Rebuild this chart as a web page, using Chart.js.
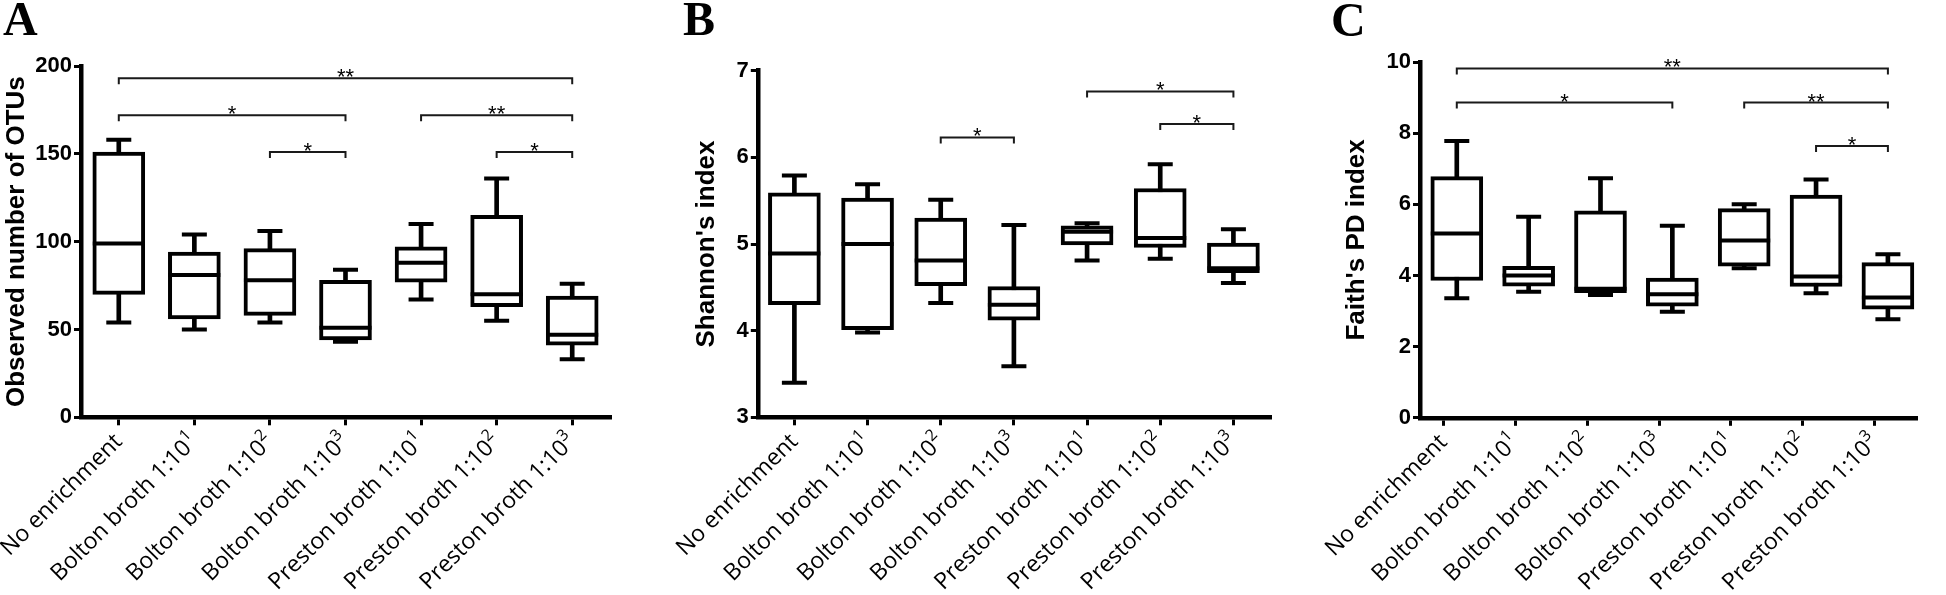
<!DOCTYPE html>
<html>
<head>
<meta charset="utf-8">
<script src="https://cdn.jsdelivr.net/npm/chart.js@4.4.1/dist/chart.umd.min.js"></script>
<style>
  html, body { margin: 0; padding: 0; background: #fff; }
  body { width: 1946px; height: 595px; position: relative; overflow: hidden; }
  canvas { position: absolute; top: 0; }
  .letter { position: absolute; z-index: 2; font-family: 'Liberation Serif', 'Times New Roman', serif; font-weight: bold; font-size: 48px; line-height: 48px; color: #000; }
</style>
</head>
<body>
<div class="letter" style="left:3px;top:-5px">A</div>
<div class="letter" style="left:683px;top:-5px">B</div>
<div class="letter" style="left:1331px;top:-4px">C</div>
<canvas id="chartA" width="640" height="595" style="left:0px"></canvas>
<canvas id="chartB" width="660" height="595" style="left:640px"></canvas>
<canvas id="chartC" width="646" height="595" style="left:1300px"></canvas>
<script>
// categorie (gruppi di arricchimento)
var categories = ['No enrichment', 'Bolton broth 1:10¹', 'Bolton broth 1:10²', 'Bolton broth 1:10³',
  'Preston broth 1:10¹', 'Preston broth 1:10²', 'Preston broth 1:10³'];

// A - observed OTUs
var otusMin    = [54, 50, 54, 43, 67, 55, 33];
var otusQ1     = [70, 56, 58, 44, 77, 63, 41];
var otusMedian = [99, 81, 78, 51, 88, 70, 47];
var otusQ3     = [151, 94, 96, 78, 97, 115, 69];
var otusMax    = [158, 104, 106, 84, 110, 136, 76];
var otusTicks  = [0, 50, 100, 150, 200];
var otusBrackets = [[0, 6, 193, '**'], [0, 3, 172, '*'], [4, 6, 172, '**'], [2, 3, 151, '*'], [5, 6, 151, '*']];

// B - Shannon
var shannonMin    = [3.40, 3.98, 4.32, 3.59, 4.81, 4.83, 4.55];
var shannonQ1     = [4.30, 4.01, 4.52, 4.12, 4.99, 4.96, 4.67];
var shannonMedian = [4.89, 5.00, 4.81, 4.30, 5.14, 5.07, 4.72];
var shannonQ3     = [5.59, 5.53, 5.30, 4.51, 5.21, 5.64, 5.01];
var shannonMax    = [5.79, 5.69, 5.51, 5.22, 5.24, 5.92, 5.17];
var shannonTicks  = [3, 4, 5, 6, 7];
var shannonBrackets = [[4, 6, 6.76, '*'], [5, 6, 6.385, '*'], [2, 3, 6.23, '*']];

// C - Faith's PD
var faithMin    = [3.36, 3.54, 3.45, 2.98, 4.20, 3.50, 2.77];
var faithQ1     = [3.86, 3.70, 3.52, 3.14, 4.26, 3.69, 3.05];
var faithMedian = [5.18, 4.00, 3.63, 3.47, 4.98, 3.97, 3.38];
var faithQ3     = [6.78, 4.26, 5.82, 3.93, 5.88, 6.26, 4.36];
var faithMax    = [7.78, 5.65, 6.73, 5.40, 6.00, 6.70, 4.60];
var faithTicks  = [0, 2, 4, 6, 8, 10];
var faithBrackets = [[0, 6, 9.82, '**'], [0, 3, 8.86, '*'], [4, 6, 8.86, '**'], [5, 6, 7.64, '*']];

Chart.defaults.font.family = '"Liberation Sans", Arial, sans-serif';
Chart.defaults.color = '#000';

var LABEL_SIZE = 23;
var supDigits = {'¹': '1', '²': '2', '³': '3'};

// separa l'esponente finale (es. 1:10³ -> '1:10' + '3')
function splitLabel(label) {
  var last = label.charAt(label.length - 1);
  if (supDigits[last]) {
    return [label.slice(0, -1), supDigits[last]];
  }
  return [label, ''];
}

// disegna le parentesi di significativita' usando le scale del grafico
var bracketPlugin = {
  id: 'brackets',
  afterDatasetsDraw: function (chart, args, opts) {
    var c = chart.ctx;
    var xs = chart.scales.xd;
    var ys = chart.scales.y;
    c.save();
    c.strokeStyle = '#1a1a1a';
    c.lineWidth = 2;
    c.fillStyle = '#000';
    c.font = '22px "Liberation Sans", Arial, sans-serif';
    c.textAlign = 'center';
    c.textBaseline = 'alphabetic';
    opts.list.forEach(function (b) {
      var x1 = xs.getPixelForValue(b[0]);
      var x2 = xs.getPixelForValue(b[1]);
      var y = ys.getPixelForValue(b[2]);
      c.beginPath();
      c.moveTo(x1, y + 6);
      c.lineTo(x1, y);
      c.lineTo(x2, y);
      c.lineTo(x2, y + 6);
      c.stroke();
      c.fillText(b[3], (x1 + x2) / 2, y + 6);
    });
    c.restore();
  }
};

// etichette delle categorie ruotate, con esponente in apice
var labelPlugin = {
  id: 'catLabels',
  afterDraw: function (chart) {
    var c = chart.ctx;
    var sc = chart.scales.x;
    var lh = LABEL_SIZE * 1.2;
    var supSize = Math.round(LABEL_SIZE * 0.68);
    c.save();
    c.fillStyle = '#000';
    c.textBaseline = 'middle';
    c.textAlign = 'right';
    categories.forEach(function (label, i) {
      var parts = splitLabel(label);
      var x = sc.getPixelForValue(i) - (lh / 2) * Math.sin(Math.PI / 4);
      var y = sc.top + 8 + 3;
      c.save();
      c.translate(x, y);
      c.rotate(-Math.PI / 4);
      var supW = 0;
      if (parts[1]) {
        c.font = supSize + 'px "Open Sans", sans-serif';
        supW = c.measureText(parts[1]).width;
        c.fillText(parts[1], 0, lh / 2 - 8);
      }
      c.font = LABEL_SIZE + 'px "Open Sans", sans-serif';
      c.fillText(parts[0], -supW, lh / 2);
      c.restore();
    });
    c.restore();
  }
};

function boxPlot(canvasId, s) {
  var idx = categories.map(function (c, i) { return i; });

  var whiskers = idx.map(function (i) { return {x: i, y: [s.min[i], s.max[i]]}; });
  var boxes = idx.map(function (i) { return {x: i, y: [s.q1[i], s.q3[i]]}; });
  var medians = idx.map(function (i) { return {x: i, y: s.median[i]}; });
  var caps = [];
  for (var i = 0; i < idx.length; i++) {
    caps.push({x: i, y: s.min[i]});
    caps.push({x: i, y: s.max[i]});
  }

  var chart = new Chart(document.getElementById(canvasId), {
    type: 'scatter',
    data: {
      datasets: [
        {
          type: 'bar', label: 'whisker', data: whiskers, xAxisID: 'xd',
          backgroundColor: '#000', barThickness: 4, grouped: false, order: 3
        },
        {
          type: 'bar', label: 'box', data: boxes, xAxisID: 'xd',
          backgroundColor: '#fff', borderColor: '#000', borderWidth: 4,
          borderSkipped: false, barThickness: 52, grouped: false, order: 2
        },
        {
          type: 'scatter', label: 'median', data: medians, xAxisID: 'xd',
          pointStyle: 'line', pointRadius: 26, pointBorderWidth: 4,
          borderColor: '#000', pointBorderColor: '#000', order: 1
        },
        {
          type: 'scatter', label: 'caps', data: caps, xAxisID: 'xd',
          pointStyle: 'line', pointRadius: 12.5, pointBorderWidth: 4,
          borderColor: '#000', pointBorderColor: '#000', order: 0
        }
      ]
    },
    options: {
      responsive: false,
      animation: false,
      devicePixelRatio: 1,
      events: [],
      layout: { padding: s.padding },
      plugins: {
        legend: { display: false },
        tooltip: { enabled: false },
        brackets: { list: s.brackets }
      },
      scales: {
        x: {
          type: 'linear', position: 'bottom', min: s.tickRange[0], max: s.tickRange[1], offset: false,
          afterBuildTicks: function (sc) { sc.ticks = idx.map(function (i) { return {value: i}; }); },
          afterFit: function (sc) { sc.height = s.xHeight; },
          ticks: { display: false },
          grid: { drawOnChartArea: false, drawTicks: true, tickLength: 8, lineWidth: 3, color: '#000', offset: false },
          border: { display: true, width: 4.5, color: '#000' }
        },
        xd: { type: 'linear', display: false, min: s.dataRange[0], max: s.dataRange[1], offset: false },
        y: {
          type: 'linear', min: s.ticks[0], max: s.ticks[s.ticks.length - 1],
          afterBuildTicks: function (sc) { sc.ticks = s.ticks.map(function (v) { return {value: v}; }); },
          afterFit: function (sc) { sc.width = s.yWidth; },
          ticks: { color: '#000', padding: 2, font: { size: 22, weight: 'bold' } },
          grid: { drawOnChartArea: false, drawTicks: true, tickLength: 7, lineWidth: 3, color: '#000' },
          border: { display: true, width: 4.5, color: '#000' },
          title: {
            display: true, text: s.title, color: '#000',
            font: { size: 26, weight: 'bold' },
            padding: { top: s.titlePad, bottom: 0 }
          }
        }
      }
    },
    plugins: [bracketPlugin, labelPlugin]
  });
  return chart;
}

boxPlot('chartA', {
  min: otusMin, q1: otusQ1, median: otusMedian, q3: otusQ3, max: otusMax,
  ticks: otusTicks, brackets: otusBrackets, title: 'Observed number of OTUs',
  padding: { left: 0, top: 66, right: 29, bottom: 0 }, yWidth: 81, xHeight: 177.7, titlePad: 1,
  tickRange: [-0.5, 6.5], dataRange: [-0.5, 6.5]
});

boxPlot('chartB', {
  min: shannonMin, q1: shannonQ1, median: shannonMedian, q3: shannonQ3, max: shannonMax,
  ticks: shannonTicks, brackets: shannonBrackets, title: "Shannon's index",
  padding: { left: 50, top: 70.7, right: 21.4, bottom: 0 }, yWidth: 67.8, xHeight: 177.7, titlePad: 1,
  tickRange: [-0.5, 6.5], dataRange: [-0.5, 6.5]
});

boxPlot('chartC', {
  min: faithMin, q1: faithQ1, median: faithMedian, q3: faithQ3, max: faithMax,
  ticks: faithTicks, brackets: faithBrackets, title: "Faith's PD index",
  padding: { left: 40, top: 62, right: 0, bottom: 0 }, yWidth: 80, xHeight: 177.2, titlePad: 1,
  tickRange: [-0.328, 6.575], dataRange: [-0.512, 6.391]
});
</script>
</body>
</html>
